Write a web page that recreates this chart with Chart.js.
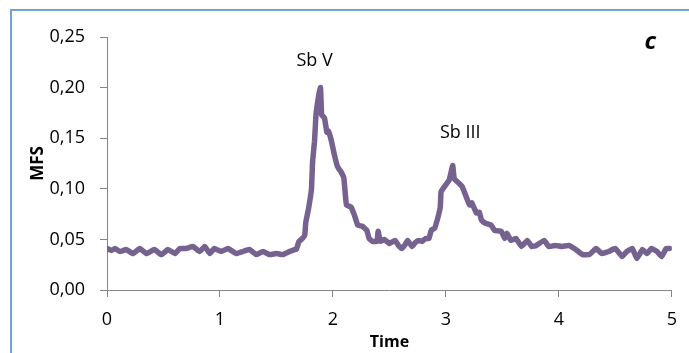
<!DOCTYPE html>
<html>
<head>
<meta charset="utf-8">
<script src="https://cdn.jsdelivr.net/npm/chart.js@4/dist/chart.umd.min.js"></script>
<style>
  html, body { margin: 0; padding: 0; background: #fff; }
  #wrap { position: relative; width: 689px; height: 353px; overflow: hidden; }
  #frame { position: absolute; left: 10px; top: 9px; width: 720px; height: 400px;
           border: 2px solid #74a2d6; box-sizing: border-box; }
  canvas { position: absolute; left: 0; top: 0; }
</style>
</head>
<body>
<div id="wrap">
  <div id="frame"></div>
  <canvas id="chart" width="689" height="353"></canvas>
</div>
<script>
// MFS signal over time
var time = [
  0.00, 0.04, 0.07, 0.115, 0.17, 0.23, 0.29, 0.35, 0.42, 0.48, 0.54, 0.60, 0.645, 0.70, 0.76,
  0.82, 0.865, 0.91, 0.95, 1.01, 1.07, 1.145, 1.20, 1.26, 1.32, 1.38, 1.44, 1.50, 1.555, 1.615,
  1.66, 1.675, 1.70, 1.73, 1.75, 1.76, 1.785, 1.81, 1.82, 1.837, 1.85, 1.875, 1.89, 1.90, 1.925,
  1.946, 1.96, 1.985, 2.014, 2.04, 2.07, 2.096, 2.11, 2.12, 2.16, 2.19, 2.22, 2.26, 2.30, 2.32,
  2.35, 2.39, 2.40, 2.42, 2.455, 2.50, 2.55, 2.58, 2.61, 2.64, 2.66, 2.70, 2.73, 2.76, 2.79,
  2.82, 2.85, 2.87, 2.90, 2.93, 2.95, 2.957, 2.986, 3.03, 3.06, 3.074, 3.12, 3.145, 3.18, 3.21,
  3.23, 3.27, 3.295, 3.315, 3.35, 3.40, 3.43, 3.49, 3.52, 3.54, 3.575, 3.62, 3.67, 3.72, 3.76,
  3.80, 3.87, 3.91, 3.97, 4.03, 4.09, 4.15, 4.21, 4.27, 4.33, 4.38, 4.44, 4.50, 4.56, 4.60,
  4.65, 4.69, 4.74, 4.78, 4.82, 4.87, 4.91, 4.95, 4.98
];
var mfs = [
  0.041, 0.039, 0.041, 0.038, 0.040, 0.036, 0.041, 0.036, 0.040, 0.035, 0.040, 0.036, 0.041, 0.041, 0.043,
  0.038, 0.043, 0.036, 0.041, 0.038, 0.041, 0.036, 0.038, 0.040, 0.035, 0.038, 0.035, 0.036, 0.035, 0.038,
  0.040, 0.040, 0.048, 0.051, 0.054, 0.067, 0.081, 0.100, 0.127, 0.147, 0.173, 0.193, 0.200, 0.173, 0.170,
  0.156, 0.157, 0.148, 0.133, 0.122, 0.117, 0.111, 0.094, 0.084, 0.082, 0.074, 0.064, 0.063, 0.059, 0.051,
  0.048, 0.048, 0.058, 0.048, 0.050, 0.046, 0.049, 0.044, 0.041, 0.045, 0.049, 0.043, 0.047, 0.049, 0.048,
  0.051, 0.051, 0.059, 0.061, 0.072, 0.082, 0.097, 0.102, 0.109, 0.123, 0.110, 0.105, 0.102, 0.092, 0.084,
  0.086, 0.076, 0.077, 0.069, 0.066, 0.064, 0.059, 0.058, 0.051, 0.056, 0.049, 0.051, 0.043, 0.049, 0.043,
  0.044, 0.049, 0.043, 0.044, 0.043, 0.044, 0.040, 0.035, 0.035, 0.041, 0.036, 0.038, 0.041, 0.033, 0.038,
  0.041, 0.031, 0.040, 0.036, 0.041, 0.038, 0.033, 0.041, 0.041
];

var xTicks = [0, 1, 2, 3, 4, 5];
var yTicks = [0, 0.05, 0.10, 0.15, 0.20, 0.25];

// peak labels in data units
var notes = [
  { text: 'Sb V', x: 1.837, y: 0.226, font: '18px "Open Sans"' },
  { text: 'Sb III', x: 3.127, y: 0.155, font: '18px "Open Sans"' },
  { text: 'c', x: 4.81, y: 0.245, font: 'italic bold 24px "Open Sans"' }
];

var points = time.map(function (t, i) { return { x: t, y: mfs[i] }; });

var axisGrey = '#868686';
var textFont = { family: '"Open Sans", sans-serif', size: 18 };

var notesPlugin = {
  id: 'notes',
  afterDraw: function (chart) {
    var ctx = chart.ctx;
    var xs = chart.scales.x, ys = chart.scales.y;
    ctx.save();
    ctx.fillStyle = '#000';
    ctx.textAlign = 'center';
    ctx.textBaseline = 'middle';
    notes.forEach(function (n) {
      ctx.font = n.font;
      ctx.fillText(n.text, xs.getPixelForValue(n.x), ys.getPixelForValue(n.y));
    });
    ctx.restore();
  }
};

new Chart(document.getElementById('chart'), {
  type: 'scatter',
  data: {
    datasets: [{
      data: points,
      showLine: true,
      borderColor: '#76628f',
      borderWidth: 5.5,
      pointRadius: 0,
      tension: 0.1,
      borderJoinStyle: 'round',
      borderCapStyle: 'round'
    }]
  },
  options: {
    responsive: false,
    animation: false,
    layout: { padding: { top: 37, right: 16, left: 0, bottom: 0 } },
    plugins: { legend: { display: false }, tooltip: { enabled: false } },
    scales: {
      x: {
        type: 'linear',
        min: 0, max: 5,
        afterBuildTicks: function (s) { s.ticks = xTicks.map(function (v) { return { value: v }; }); },
        afterFit: function (s) { s.height = 63; },
        grid: { drawOnChartArea: false, color: axisGrey, tickLength: 7 },
        border: { color: axisGrey, width: 1 },
        ticks: { color: '#000', font: textFont, padding: 12, maxRotation: 0 },
        title: { display: true, text: 'Time', color: '#000',
                 font: { family: '"Open Sans", sans-serif', size: 16, weight: 'bold' },
                 padding: { top: 0, bottom: 1 } }
      },
      y: {
        min: 0, max: 0.25,
        afterBuildTicks: function (s) { s.ticks = yTicks.map(function (v) { return { value: v }; }); },
        afterFit: function (s) { s.width = 107; },
        grid: { drawOnChartArea: false, color: axisGrey, tickLength: 7 },
        border: { color: axisGrey, width: 1 },
        ticks: {
          color: '#000', font: textFont, padding: 15,
          callback: function (v) { return v.toFixed(2).replace('.', ','); }
        },
        title: { display: true, text: 'MFS', color: '#000',
                 font: { family: '"Open Sans", sans-serif', size: 17, weight: 'bold' },
                 padding: { top: 28, bottom: 0 } }
      }
    }
  },
  plugins: [notesPlugin]
});
</script>
</body>
</html>
